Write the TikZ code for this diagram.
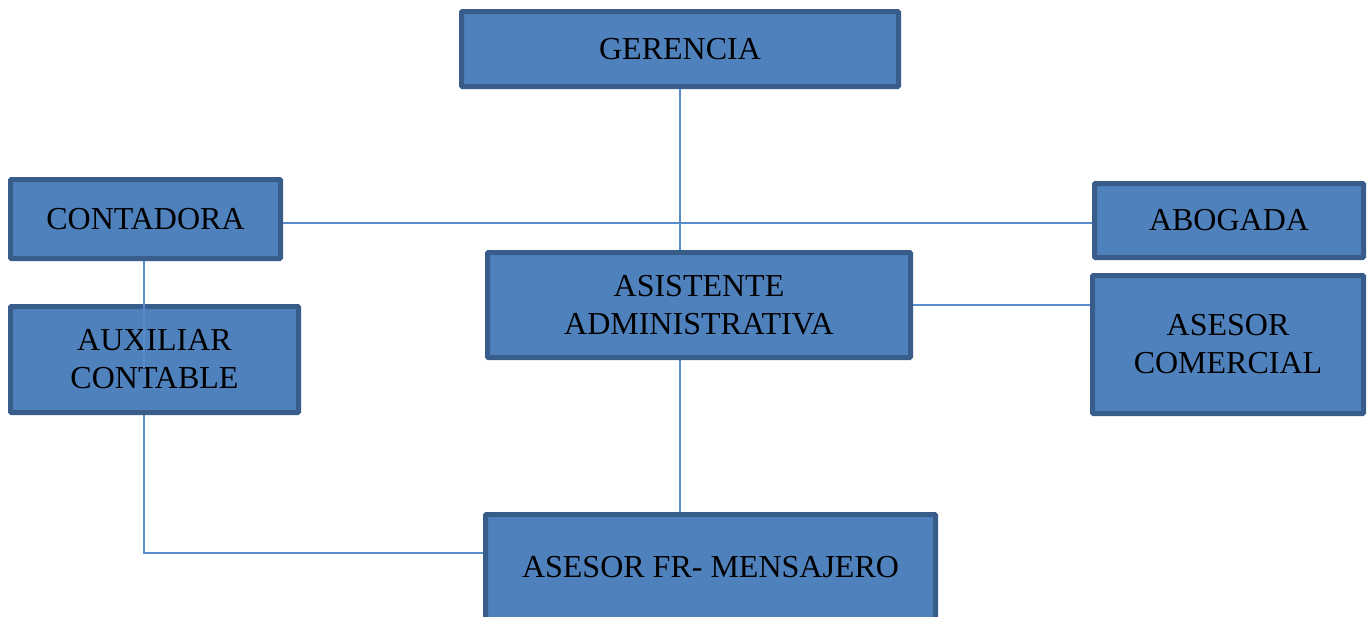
\documentclass[tikz,border=0pt]{standalone}
\usepackage{fontspec}
\setmainfont{Liberation Serif}
\definecolor{boxfill}{HTML}{4F81BD}
\definecolor{boxline}{HTML}{385D8A}
\definecolor{linkline}{HTML}{5A8CCC}
\tikzset{
  cargo/.style={draw=boxline, fill=boxfill, line width=5pt, rounded corners=1pt,
    inner sep=0pt, align=center, font=\fontsize{32}{38}\selectfont},
  enlace/.style={draw=linkline, line width=1.5pt}
}
\begin{document}
\begin{tikzpicture}[x=1pt, y=-1pt]
        % Fix the page to the size of the chart
        \useasboundingbox (0,0) rectangle (1368,616);
        \clip (0,0) rectangle (1368,616);

        % Place the boxes
        \node[cargo, minimum width=437pt, minimum height=75pt] (ger) at (680,49) {GERENCIA};
        \node[cargo, minimum width=270pt, minimum height=79pt] (cont) at (145.5,219) {CONTADORA};
        \node[cargo, minimum width=269pt, minimum height=74pt] (abo) at (1229,220.5) {ABOGADA};
        \node[cargo, minimum width=423pt, minimum height=105pt] (asis) at (699,305) {ASISTENTE\\ADMINISTRATIVA};
        \node[cargo, minimum width=288pt, minimum height=106pt] (aux) at (154.5,359.5) {AUXILIAR\\CONTABLE};
        \node[cargo, minimum width=271pt, minimum height=138pt] (com) at (1228,344.5) {ASESOR\\COMERCIAL};
        \node[cargo, minimum width=450pt, minimum height=105pt] (men) at (710.5,567) {ASESOR FR- MENSAJERO};

        % Bend point of the line to the messenger
        \coordinate (bend) at (144,553);

        % Draw the connecting lines
        \draw[enlace] (ger.south) -- (ger.south |- asis.north);
        \draw[enlace] (cont.east |- 0,223) -- (abo.west |- 0,223);
        \draw[enlace] (asis.east) -- (asis.east -| com.west);
        \draw[enlace] (ger.south |- asis.south) -- (ger.south |- men.north);
        \draw[enlace] (cont.south -| bend) -- (bend |- 0,368);
        \draw[enlace] (aux.south -| bend) -- (bend) -- (bend -| men.west);
    \end{tikzpicture}
\end{document}
